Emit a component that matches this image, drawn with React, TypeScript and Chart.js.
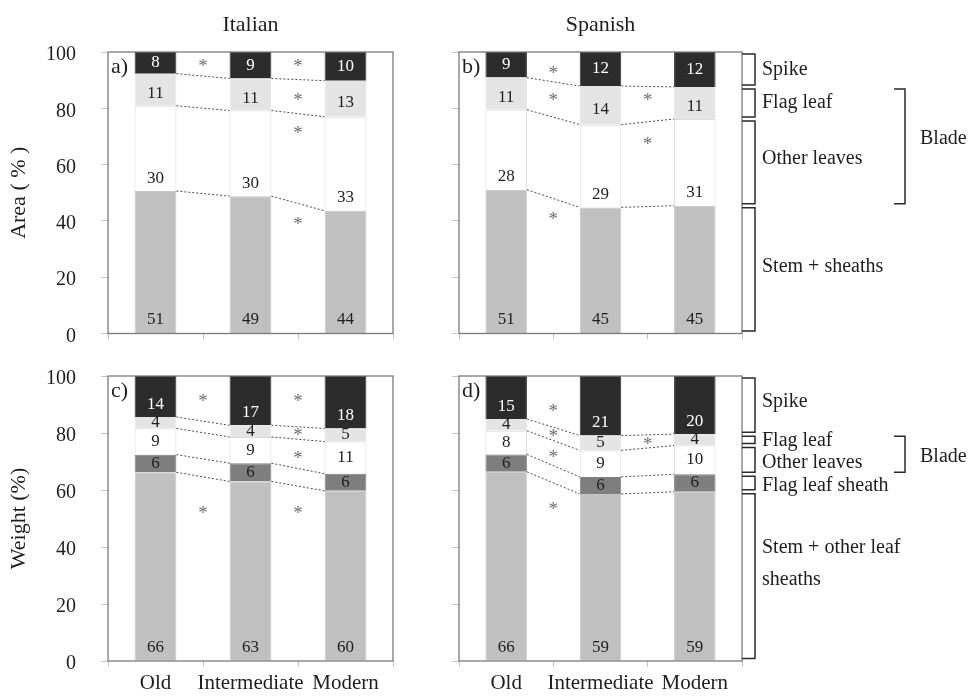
import { useEffect, useRef } from "react";
import { Chart, registerables } from "chart.js";

Chart.register(...registerables);

const FONT = "'Liberation Serif', 'Times New Roman', serif";
const TEXT = "#1e1e1e";

const categories = ["Old", "Intermediate", "Modern"];

// a) Area (%), Italian  (bottom -> top)
const areaItalianStem = [50.6, 48.8, 43.6];
const areaItalianOther = [30.3, 30.4, 33.4];
const areaItalianFlag = [11.4, 11.4, 12.8];
const areaItalianSpike = [7.7, 9.4, 10.2];

// b) Area (%), Spanish
const areaSpanishStem = [51.1, 44.8, 45.4];
const areaSpanishOther = [28.4, 29.4, 30.8];
const areaSpanishFlag = [11.4, 13.7, 11.4];
const areaSpanishSpike = [9.1, 12.1, 12.4];

// c) Weight (%), Italian
const weightItalianStem = [66.2, 63.0, 59.7];
const weightItalianSheath = [6.2, 6.4, 6.0];
const weightItalianOther = [9.2, 9.2, 11.3];
const weightItalianFlag = [4.0, 4.1, 4.6];
const weightItalianSpike = [14.4, 17.3, 18.4];

// d) Weight (%), Spanish
const weightSpanishStem = [66.4, 58.6, 59.4];
const weightSpanishSheath = [6.1, 6.0, 6.1];
const weightSpanishOther = [8.3, 9.3, 10.1];
const weightSpanishFlag = [4.1, 5.2, 4.0];
const weightSpanishSpike = [15.1, 20.9, 20.4];

// significance asterisks: [position between categories, value]
const starsAreaItalian = [[0.5, 96], [1.5, 96], [1.5, 84], [1.5, 72.3], [1.5, 40]];
const starsAreaSpanish = [[0.5, 93.6], [0.5, 84], [0.5, 41.6], [1.5, 84], [1.5, 68.4]];
const starsWeightItalian = [[0.5, 92.3], [0.5, 53], [1.5, 92.3], [1.5, 80.2], [1.5, 72.3], [1.5, 53]];
const starsWeightSpanish = [[0.5, 88.6], [0.5, 80.1], [0.5, 72.6], [0.5, 54.4], [1.5, 77.1]];

const areaPartNames = ["Stem + sheaths", "Other leaves", "Flag leaf", "Spike"];
const weightPartNames = ["Stem + other leaf sheaths", "Flag leaf sheath", "Other leaves", "Flag leaf", "Spike"];

const COLORS = {
  stem: "#c0c0c0",
  sheath: "#7e7e7e",
  other: "#ffffff",
  flag: "#e4e4e4",
  spike: "#2c2c2c",
};

type Series = { name: string; values: number[]; color: string; border: string; mode: string; light?: boolean };
type Bracket = { text: string[]; dy: number };
type Panel = {
  tag: string;
  title?: string;
  yTitle?: string;
  yLabels: boolean;
  xLabels: boolean;
  l: number;
  t: number;
  r: number;
  b: number;
  series: Series[];
  stars: number[][];
  brackets?: Bracket[];
  blade?: { from: number; to: number; dy: number };
};

function areaSeries(stem: number[], other: number[], flag: number[], spike: number[]): Series[] {
  return [
    { name: areaPartNames[0], values: stem, color: COLORS.stem, border: "#c6c6c6", mode: "bottom" },
    { name: areaPartNames[1], values: other, color: COLORS.other, border: "#dadada", mode: "aboveBase" },
    { name: areaPartNames[2], values: flag, color: COLORS.flag, border: "#e4e4e4", mode: "centerLow" },
    { name: areaPartNames[3], values: spike, color: COLORS.spike, border: "#2c2c2c", mode: "center", light: true },
  ];
}

function weightSeries(stem: number[], sheath: number[], other: number[], flag: number[], spike: number[]): Series[] {
  return [
    { name: weightPartNames[0], values: stem, color: COLORS.stem, border: "#c6c6c6", mode: "bottom" },
    { name: weightPartNames[1], values: sheath, color: COLORS.sheath, border: "#7e7e7e", mode: "center" },
    { name: weightPartNames[2], values: other, color: COLORS.other, border: "#dadada", mode: "center" },
    { name: weightPartNames[3], values: flag, color: COLORS.flag, border: "#e4e4e4", mode: "center" },
    { name: weightPartNames[4], values: spike, color: COLORS.spike, border: "#2c2c2c", mode: "spikeLow", light: true },
  ];
}

const panels: Panel[] = [
  {
    tag: "a)", title: "Italian", yTitle: "Area ( % )", yLabels: true, xLabels: false,
    l: 108, t: 52, r: 393, b: 333.5,
    series: areaSeries(areaItalianStem, areaItalianOther, areaItalianFlag, areaItalianSpike),
    stars: starsAreaItalian,
  },
  {
    tag: "b)", title: "Spanish", yLabels: false, xLabels: false,
    l: 459, t: 52, r: 742, b: 333.5,
    series: areaSeries(areaSpanishStem, areaSpanishOther, areaSpanishFlag, areaSpanishSpike),
    stars: starsAreaSpanish,
    brackets: [
      { text: ["Stem + sheaths"], dy: -3 },
      { text: ["Other leaves"], dy: -4 },
      { text: ["Flag leaf"], dy: 0 },
      { text: ["Spike"], dy: 0 },
    ],
    blade: { from: 1, to: 2, dy: -8 },
  },
  {
    tag: "c)", yTitle: "Weight (%)", yLabels: true, xLabels: true,
    l: 108, t: 376, r: 393, b: 661,
    series: weightSeries(weightItalianStem, weightItalianSheath, weightItalianOther, weightItalianFlag, weightItalianSpike),
    stars: starsWeightItalian,
  },
  {
    tag: "d)", yLabels: false, xLabels: true,
    l: 459, t: 376, r: 742, b: 661,
    series: weightSeries(weightSpanishStem, weightSpanishSheath, weightSpanishOther, weightSpanishFlag, weightSpanishSpike),
    stars: starsWeightSpanish,
    brackets: [
      { text: ["Stem + other leaf", "sheaths"], dy: -12 },
      { text: ["Flag leaf sheath"], dy: 3 },
      { text: ["Other leaves"], dy: 3 },
      { text: ["Flag leaf"], dy: 1 },
      { text: ["Spike"], dy: -3 },
    ],
    blade: { from: 2, to: 3, dy: 3 },
  },
];

const Y_AXIS_W = 102;

function panelPlugin(p: Panel) {
  return {
    id: "panel" + p.tag.replace(")", ""),
    afterDatasetsDraw(chart: any) {
      const ctx = chart.ctx as CanvasRenderingContext2D;
      const a = chart.chartArea;
      const xs = chart.scales.x;
      const ys = chart.scales.y;
      const els = p.series.map((_, j) =>
        chart.getDatasetMeta(j).data.map((e: any) => e.getProps(["x", "y", "base", "width"], true))
      );
      ctx.save();

      // dotted connectors between bars at each segment boundary
      ctx.strokeStyle = "#4a4a4a";
      ctx.lineWidth = 1;
      ctx.setLineDash([2, 2]);
      for (let j = 0; j < p.series.length - 1; j++) {
        for (let i = 0; i < els[j].length - 1; i++) {
          const e0 = els[j][i];
          const e1 = els[j][i + 1];
          ctx.beginPath();
          ctx.moveTo(e0.x + e0.width / 2, e0.y);
          ctx.lineTo(e1.x - e1.width / 2, e1.y);
          ctx.stroke();
        }
      }
      ctx.setLineDash([]);

      // value labels
      ctx.font = "17px " + FONT;
      ctx.textAlign = "center";
      ctx.textBaseline = "middle";
      p.series.forEach((s, j) => {
        els[j].forEach((e: any, i: number) => {
          const top = e.y;
          const base = e.base;
          const mid = (top + base) / 2;
          let y = mid;
          if (s.mode === "bottom") y = base - 13;
          else if (s.mode === "aboveBase") y = base - 13;
          else if (s.mode === "centerLow") y = mid + 4;
          else if (s.mode === "spikeLow") y = base - 13;
          ctx.fillStyle = s.light ? "#ffffff" : TEXT;
          ctx.fillText(String(Math.round(s.values[i])), e.x, y);
        });
      });

      // frame
      ctx.strokeStyle = "#7a7a7a";
      ctx.lineWidth = 1.3;
      ctx.strokeRect(a.left, a.top, a.right - a.left, a.bottom - a.top);

      // panel tag
      ctx.fillStyle = TEXT;
      ctx.font = "22px " + FONT;
      ctx.textAlign = "left";
      ctx.textBaseline = "middle";
      ctx.fillText(p.tag, a.left + 3, a.top + 15);

      // asterisks
      ctx.fillStyle = "#6e6e6e";
      ctx.font = "19px " + FONT;
      ctx.textAlign = "center";
      p.stars.forEach(([g, v]) => {
        ctx.fillText("*", xs.getPixelForValue(g), ys.getPixelForValue(v) + 4);
      });

      // column title
      if (p.title) {
        ctx.fillStyle = TEXT;
        ctx.font = "22px " + FONT;
        ctx.textAlign = "center";
        ctx.textBaseline = "alphabetic";
        ctx.fillText(p.title, (a.left + a.right) / 2, 31);
      }

      // brackets describing the stacked parts (from the last bar)
      if (p.brackets) {
        const last = els.map((col: any[]) => col[col.length - 1]);
        const bx = a.right + 13;
        ctx.strokeStyle = "#2a2a2a";
        ctx.lineWidth = 1.5;
        ctx.font = "20px " + FONT;
        ctx.fillStyle = TEXT;
        ctx.textAlign = "left";
        ctx.textBaseline = "middle";
        p.brackets.forEach((br, j) => {
          const e = last[j];
          const y0 = e.y + 2;
          const y1 = e.base - 2;
          ctx.beginPath();
          ctx.moveTo(a.right, y0);
          ctx.lineTo(bx, y0);
          ctx.lineTo(bx, y1);
          ctx.lineTo(a.right, y1);
          ctx.stroke();
          const cy = (y0 + y1) / 2 + br.dy;
          const lh = 32;
          br.text.forEach((t, k) => {
            ctx.fillText(t, a.right + 20, cy + (k - (br.text.length - 1) / 2) * lh);
          });
        });
        if (p.blade) {
          const y0 = last[p.blade.to].y + 2;
          const y1 = last[p.blade.from].base - 2;
          const vx = a.right + 163;
          ctx.beginPath();
          ctx.moveTo(vx - 11, y0);
          ctx.lineTo(vx, y0);
          ctx.lineTo(vx, y1);
          ctx.lineTo(vx - 11, y1);
          ctx.stroke();
          ctx.fillText("Blade", vx + 15, (y0 + y1) / 2 + p.blade.dy);
        }
      }
      ctx.restore();
    },
  };
}

function makeConfig(p: Panel): any {
  const xh = p.xLabels ? 30 : 10;
  return {
    type: "bar",
    data: {
      labels: categories,
      datasets: p.series.map((s) => ({
        label: s.name,
        data: s.values,
        backgroundColor: s.color,
        borderColor: s.border,
        borderWidth: 1,
        barPercentage: 0.44,
        categoryPercentage: 1,
      })),
    },
    options: {
      responsive: false,
      animation: false,
      events: [],
      layout: {
        padding: { left: p.l - Y_AXIS_W, top: p.t, right: 968 - p.r, bottom: 698 - p.b - xh },
      },
      plugins: { legend: { display: false }, tooltip: { enabled: false }, title: { display: false } },
      scales: {
        x: {
          stacked: true,
          offset: true,
          border: { display: false },
          grid: { display: true, offset: true, drawOnChartArea: false, drawTicks: true, tickLength: 6, color: "#c4c4c4" },
          ticks: { display: p.xLabels, font: { family: FONT, size: 21 }, color: TEXT, padding: 4, maxRotation: 0, autoSkip: false },
          afterFit: (s: any) => { s.height = xh; },
        },
        y: {
          stacked: true,
          min: 0,
          max: 100,
          border: { display: false },
          grid: { display: true, drawOnChartArea: false, drawTicks: true, tickLength: 7, color: "#c4c4c4" },
          ticks: { display: p.yLabels, stepSize: 20, font: { family: FONT, size: 20 }, color: TEXT, padding: 25, labelOffset: 3 },
          title: { display: !!p.yTitle, text: p.yTitle || "", font: { family: FONT, size: 22 }, color: TEXT, padding: 0 },
          afterFit: (s: any) => { s.width = Y_AXIS_W; },
        },
      },
    },
    plugins: [panelPlugin(p)],
  };
}

export default function App() {
  const r0 = useRef<HTMLCanvasElement>(null);
  const r1 = useRef<HTMLCanvasElement>(null);
  const r2 = useRef<HTMLCanvasElement>(null);
  const r3 = useRef<HTMLCanvasElement>(null);
  const refs = [r0, r1, r2, r3];

  useEffect(() => {
    const charts = panels.map((p, i) => new Chart(refs[i].current as HTMLCanvasElement, makeConfig(p)));
    return () => charts.forEach((c) => c.destroy());
  }, []);

  return (
    <div style={{ position: "absolute", left: 0, top: 0, width: 968, height: 698, background: "#ffffff" }}>
      {panels.map((p, i) => (
        <canvas
          key={p.tag}
          ref={refs[i]}
          width={968}
          height={698}
          style={{ position: "absolute", left: 0, top: 0, width: 968, height: 698 }}
        />
      ))}
    </div>
  );
}
